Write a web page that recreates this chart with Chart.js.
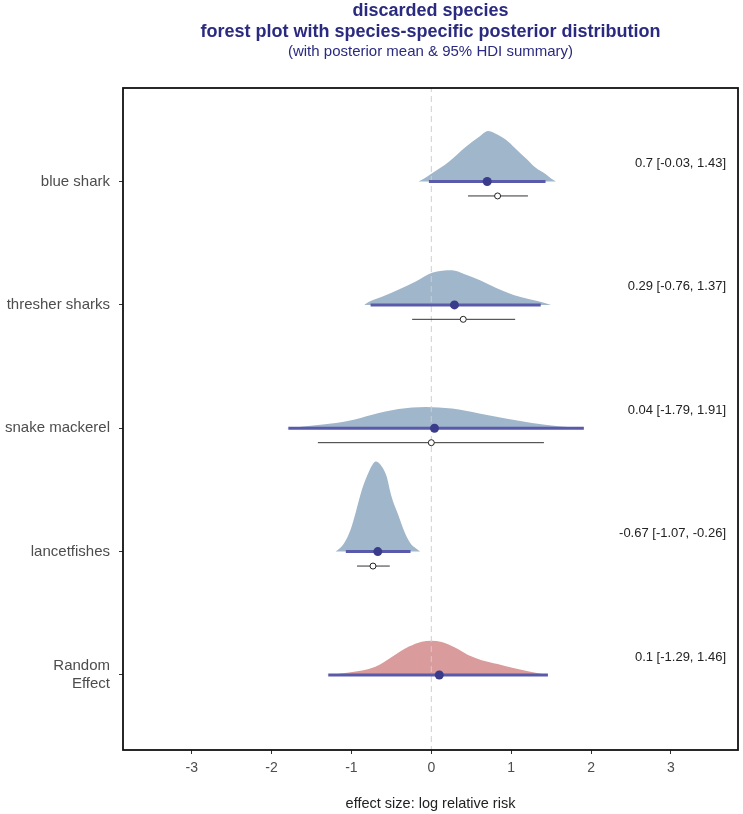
<!DOCTYPE html>
<html>
<head>
<meta charset="utf-8">
<script src="https://cdn.jsdelivr.net/npm/chart.js@4"></script>
<style>
  html, body { margin: 0; padding: 0; background: #ffffff; }
  #wrap { width: 743px; height: 814px; position: relative; }
</style>
</head>
<body>
<div id="wrap"><canvas id="c" width="743" height="814"></canvas></div>
<script>
// ---------------- data ----------------
const titleLines = ["discarded species", "forest plot with species-specific posterior distribution"];
const subtitleText = "(with posterior mean & 95% HDI summary)";
const xAxisTitle = "effect size: log relative risk";

const categories = ["blue shark", "thresher sharks", "snake mackerel", "lancetfishes", "Random Effect"];
const categoryTickLabels = [["blue shark"], ["thresher sharks"], ["snake mackerel"], ["lancetfishes"], ["Random", "Effect"]];

const postMean = [0.7, 0.29, 0.04, -0.67, 0.1];
const hdiLow   = [-0.03, -0.76, -1.79, -1.07, -1.29];
const hdiHigh  = [1.43, 1.37, 1.91, -0.26, 1.46];

// observed (study-level) estimates, open circles
const obsMean = [0.83, 0.40, 0.00, -0.73, null];
const obsLow  = [0.46, -0.24, -1.42, -0.93, null];
const obsHigh = [1.21, 1.05, 1.41, -0.52, null];

// posterior densities (x, scaled height)
const densBlueSharkX = [-0.16, -0.10, 0.01, 0.22, 0.43, 0.595, 0.71, 0.80, 0.93, 1.05, 1.18, 1.30, 1.43, 1.50, 1.56];
const densBlueSharkH = [0.0, 0.02, 0.066, 0.16, 0.28, 0.36, 0.41, 0.39, 0.34, 0.27, 0.19, 0.115, 0.06, 0.025, 0.0];

const densThresherX = [-0.84, -0.78, -0.61, -0.40, -0.195, 0.01, 0.26, 0.41, 0.61, 0.82, 1.03, 1.23, 1.40, 1.50];
const densThresherH = [0.0, 0.025, 0.067, 0.127, 0.19, 0.26, 0.28, 0.25, 0.20, 0.135, 0.08, 0.045, 0.02, 0.0];

const densSnakeX = [-1.82, -1.60, -1.36, -1.03, -0.74, -0.41, -0.07, 0.26, 0.60, 0.93, 1.26, 1.59, 1.92];
const densSnakeH = [0.0, 0.015, 0.03, 0.06, 0.11, 0.156, 0.173, 0.16, 0.12, 0.079, 0.043, 0.016, 0.0];

const densLancetX = [-1.20, -1.15, -1.09, -1.01, -0.95, -0.87, -0.78, -0.72, -0.69, -0.62, -0.56, -0.50, -0.41, -0.33, -0.25, -0.19, -0.14];
const densLancetH = [0.0, 0.025, 0.07, 0.18, 0.31, 0.50, 0.65, 0.72, 0.73, 0.69, 0.61, 0.45, 0.29, 0.15, 0.057, 0.025, 0.0];

const densRandomX = [-1.32, -1.03, -0.70, -0.49, -0.28, -0.12, 0.0, 0.13, 0.29, 0.46, 0.63, 0.83, 1.04, 1.24, 1.47];
const densRandomH = [0.0, 0.02, 0.067, 0.148, 0.23, 0.27, 0.278, 0.267, 0.224, 0.162, 0.12, 0.089, 0.054, 0.027, 0.0];

const xTickValues = [-3, -2, -1, 0, 1, 2, 3];

// ---------------- build ----------------
const densX = [densBlueSharkX, densThresherX, densSnakeX, densLancetX, densRandomX];
const densH = [densBlueSharkH, densThresherH, densSnakeH, densLancetH, densRandomH];
const nCat = categories.length;
const rowOf = i => nCat - i;

const FONT = '"Liberation Sans", Arial, sans-serif';
const NAVY = '#2a2a80';
const FILL_BLUE = '#a0b6ca';
const FILL_RED = '#d99b9b';
const HDI_COL = '#5a5aaa';
const DOT_COL = '#3b3b8c';

const datasets = [];

// densities (back)
categories.forEach((c, i) => {
  const r = rowOf(i);
  datasets.push({
    label: 'density ' + c,
    data: densX[i].map((x, k) => ({ x: x, y: r + densH[i][k] })),
    showLine: true,
    fill: { value: r },
    backgroundColor: i === nCat - 1 ? FILL_RED : FILL_BLUE,
    borderColor: 'rgba(0,0,0,0)',
    borderWidth: 0,
    pointRadius: 0,
    cubicInterpolationMode: 'monotone',
    order: 10
  });
});

// zero reference dashed line
datasets.push({
  label: 'zero',
  data: [{ x: 0, y: -10 }, { x: 0, y: 10 }],
  showLine: true,
  borderColor: '#cfcfcf',
  borderWidth: 1,
  borderDash: [6, 4],
  pointRadius: 0,
  fill: false,
  order: 8
});

// HDI bars
categories.forEach((c, i) => {
  const r = rowOf(i);
  datasets.push({
    label: 'HDI ' + c,
    data: [{ x: hdiLow[i], y: r }, { x: hdiHigh[i], y: r }],
    showLine: true,
    borderColor: HDI_COL,
    borderWidth: 3,
    pointRadius: 0,
    fill: false,
    order: 6
  });
});

// observed intervals
const OBS_OFF = 0.117;
categories.forEach((c, i) => {
  if (obsMean[i] === null) return;
  const r = rowOf(i) - OBS_OFF;
  datasets.push({
    label: 'obs CI ' + c,
    data: [{ x: obsLow[i], y: r }, { x: obsHigh[i], y: r }],
    showLine: true,
    borderColor: '#333333',
    borderWidth: 1,
    pointRadius: 0,
    fill: false,
    order: 5
  });
});

// observed points
datasets.push({
  label: 'observed',
  data: categories.map((c, i) => obsMean[i] === null ? null : ({ x: obsMean[i], y: rowOf(i) - OBS_OFF })).filter(d => d),
  showLine: false,
  pointRadius: 3,
  pointBackgroundColor: '#ffffff',
  pointBorderColor: '#222222',
  pointBorderWidth: 1,
  order: 2
});

// posterior means
datasets.push({
  label: 'posterior mean',
  data: categories.map((c, i) => ({ x: postMean[i], y: rowOf(i) })),
  showLine: false,
  pointRadius: 4.5,
  pointBackgroundColor: DOT_COL,
  pointBorderColor: DOT_COL,
  pointBorderWidth: 0,
  order: 1
});

const summaryText = categories.map((c, i) => `${postMean[i]} [${hdiLow[i]}, ${hdiHigh[i]}]`);

const decorPlugin = {
  id: 'decor',
  afterDraw(chart) {
    const { ctx, chartArea: a, scales } = chart;
    ctx.save();
    // frame
    ctx.strokeStyle = '#111111';
    ctx.lineWidth = 1.8;
    ctx.strokeRect(a.left, a.top, a.right - a.left, a.bottom - a.top);
    // summary labels
    ctx.fillStyle = '#222222';
    ctx.font = '13px ' + FONT;
    ctx.textAlign = 'right';
    ctx.textBaseline = 'middle';
    categories.forEach((c, i) => {
      const y = scales.y.getPixelForValue(rowOf(i)) - 18;
      ctx.fillText(summaryText[i], a.right - 12, y);
    });
    // titles
    const cx = (a.left + a.right) / 2;
    ctx.textAlign = 'center';
    ctx.fillStyle = NAVY;
    ctx.font = 'bold 18px ' + FONT;
    ctx.fillText(titleLines[0], cx, 11);
    ctx.fillText(titleLines[1], cx, 32);
    ctx.font = '15px ' + FONT;
    ctx.fillText(subtitleText, cx, 52);
    ctx.restore();
  }
};

new Chart(document.getElementById('c'), {
  type: 'scatter',
  data: { datasets },
  options: {
    responsive: false,
    animation: false,
    devicePixelRatio: 1,
    layout: { padding: { top: 88, right: 1, bottom: 0, left: 0 } },
    plugins: {
      legend: { display: false },
      tooltip: { enabled: false },
      title: { display: false }
    },
    scales: {
      x: {
        type: 'linear',
        min: -3.86,
        max: 3.84,
        afterBuildTicks: s => { s.ticks = xTickValues.map(v => ({ value: v })); },
        afterFit: s => { s.height = 64; },
        ticks: {
          color: '#4d4d4d',
          font: { size: 14, family: FONT },
          padding: 6,
          maxRotation: 0
        },
        grid: { display: true, drawOnChartArea: false, drawTicks: true, tickLength: 4, color: '#333333', lineWidth: 1 },
        border: { display: false },
        title: {
          display: true,
          text: xAxisTitle,
          color: '#222222',
          font: { size: 14.5, family: FONT },
          padding: { top: 4, bottom: 1 }
        }
      },
      y: {
        type: 'linear',
        min: 0.392,
        max: 5.758,
        afterBuildTicks: s => { s.ticks = categories.map((c, i) => ({ value: rowOf(i) })); },
        afterFit: s => { s.width = 123; },
        ticks: {
          color: '#4d4d4d',
          font: { size: 15, family: FONT },
          padding: 9,
          callback: v => {
            const i = nCat - Math.round(v);
            return categoryTickLabels[i] ? (categoryTickLabels[i].length > 1 ? categoryTickLabels[i] : categoryTickLabels[i][0]) : '';
          }
        },
        grid: { display: true, drawOnChartArea: false, drawTicks: true, tickLength: 4, color: '#333333', lineWidth: 1 },
        border: { display: false }
      }
    }
  },
  plugins: [decorPlugin]
});
</script>
</body>
</html>
